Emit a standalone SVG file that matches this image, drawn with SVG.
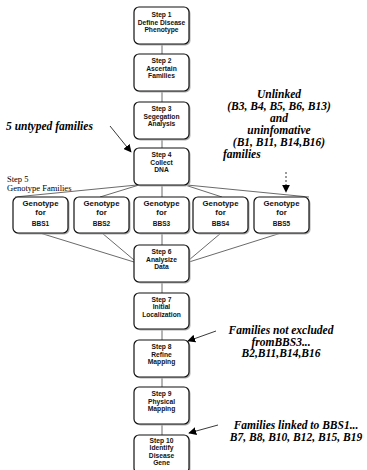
<svg xmlns="http://www.w3.org/2000/svg" width="367" height="470" viewBox="0 0 367 470">
<style>
.shadow{fill:#b0b0b0}
.box{fill:#fff;stroke:#111;stroke-width:1.2}
.bt{font-family:"Liberation Sans",Arial,sans-serif;font-weight:bold;font-size:6.7px;fill:#111;text-anchor:middle}
.gt{font-family:"Liberation Sans",Arial,sans-serif;font-weight:bold;font-size:7.8px;fill:#111;text-anchor:middle}
.gs{font-family:"Liberation Sans",Arial,sans-serif;font-weight:bold;font-size:6.5px;fill:#111;text-anchor:middle}
.ann{font-family:"Liberation Serif","Times New Roman",serif;font-weight:bold;font-style:italic;font-size:11.5px;fill:#000}
.lab{font-family:"Liberation Serif","Times New Roman",serif;font-size:8.5px;fill:#000}
.ln{stroke:#444;stroke-width:0.8;fill:none}
.arr{stroke:#222;stroke-width:0.9;fill:none}
</style>
<defs>
<marker id="ah" viewBox="0 0 10 10" refX="9" refY="5" markerWidth="8" markerHeight="8" markerUnits="userSpaceOnUse" orient="auto">
<path d="M0,0 L10,5 L0,10 z" fill="#000"/>
</marker>
</defs>
<g id="connectors">
<line class="ln" x1="162" y1="44" x2="162" y2="54"/>
<line class="ln" x1="162" y1="91" x2="162" y2="102"/>
<line class="ln" x1="162" y1="139" x2="162" y2="148"/>
<line class="ln" x1="137" y1="185" x2="15" y2="197"/>
<line class="ln" x1="139" y1="185" x2="100" y2="197"/>
<line class="ln" x1="162" y1="185" x2="162" y2="197"/>
<line class="ln" x1="185" y1="185" x2="222" y2="197"/>
<line class="ln" x1="187" y1="185" x2="309" y2="197"/>
<line class="ln" x1="40" y1="233" x2="134" y2="262"/>
<line class="ln" x1="102" y1="233" x2="134" y2="260"/>
<line class="ln" x1="162" y1="233" x2="162" y2="245"/>
<line class="ln" x1="221" y1="233" x2="189" y2="260"/>
<line class="ln" x1="281" y1="233" x2="189" y2="262"/>
<line class="ln" x1="162" y1="282" x2="162" y2="293"/>
<line class="ln" x1="162" y1="329" x2="162" y2="340"/>
<line class="ln" x1="162" y1="377" x2="162" y2="387"/>
<line class="ln" x1="162" y1="424" x2="162" y2="435"/>
<line class="arr" x1="110" y1="126" x2="131" y2="152" marker-end="url(#ah)"/>
<line class="arr" x1="286" y1="172" x2="286" y2="192" stroke-dasharray="2,2" marker-end="url(#ah)"/>
<line class="arr" x1="216" y1="331" x2="188" y2="341" marker-end="url(#ah)"/>
<line class="arr" x1="218" y1="425" x2="189" y2="433" marker-end="url(#ah)"/>
</g>
<g id="step1"><rect class="shadow" x="135.5" y="8.5" width="55" height="37" rx="5"/><rect class="box" x="134" y="7" width="55" height="37" rx="5"/>
<text class="bt" x="161.5" y="17">Step 1</text><text class="bt" x="161.5" y="24.5">Define Disease</text><text class="bt" x="161.5" y="32">Phenotype</text></g>
<g id="step2"><rect class="shadow" x="135.5" y="55.5" width="55" height="37" rx="5"/><rect class="box" x="134" y="54" width="55" height="37" rx="5"/>
<text class="bt" x="161.5" y="63">Step 2</text><text class="bt" x="161.5" y="70.5">Ascertain</text><text class="bt" x="161.5" y="78">Families</text></g>
<g id="step3"><rect class="shadow" x="135.5" y="103.5" width="55" height="37" rx="5"/><rect class="box" x="134" y="102" width="55" height="37" rx="5"/>
<text class="bt" x="161.5" y="111">Step 3</text><text class="bt" x="161.5" y="118.5">Segegation</text><text class="bt" x="161.5" y="126">Analysis</text></g>
<g id="step4"><rect class="shadow" x="135.5" y="149.5" width="55" height="37" rx="5"/><rect class="box" x="134" y="148" width="55" height="37" rx="5"/>
<text class="bt" x="161.5" y="157">Step 4</text><text class="bt" x="161.5" y="164.5">Collect</text><text class="bt" x="161.5" y="172">DNA</text></g>
<g id="bbs1"><rect class="shadow" x="14.5" y="198.5" width="55" height="36" rx="5"/><rect class="box" x="13" y="197" width="55" height="36" rx="5"/>
<text class="gt" x="40.5" y="206">Genotype</text><text class="gt" x="40.5" y="215">for</text><text class="gs" x="40.5" y="226">BBS1</text></g>
<g id="bbs2"><rect class="shadow" x="75.5" y="198.5" width="55" height="36" rx="5"/><rect class="box" x="74" y="197" width="55" height="36" rx="5"/>
<text class="gt" x="101.5" y="206">Genotype</text><text class="gt" x="101.5" y="215">for</text><text class="gs" x="101.5" y="226">BBS2</text></g>
<g id="bbs3"><rect class="shadow" x="135.5" y="198.5" width="55" height="36" rx="5"/><rect class="box" x="134" y="197" width="55" height="36" rx="5"/>
<text class="gt" x="161.5" y="206">Genotype</text><text class="gt" x="161.5" y="215">for</text><text class="gs" x="161.5" y="226">BBS3</text></g>
<g id="bbs4"><rect class="shadow" x="194.5" y="198.5" width="55" height="36" rx="5"/><rect class="box" x="193" y="197" width="55" height="36" rx="5"/>
<text class="gt" x="220.5" y="206">Genotype</text><text class="gt" x="220.5" y="215">for</text><text class="gs" x="220.5" y="226">BBS4</text></g>
<g id="bbs5"><rect class="shadow" x="255.5" y="198.5" width="55" height="36" rx="5"/><rect class="box" x="254" y="197" width="55" height="36" rx="5"/>
<text class="gt" x="281.5" y="206">Genotype</text><text class="gt" x="281.5" y="215">for</text><text class="gs" x="281.5" y="226">BBS5</text></g>
<g id="step6"><rect class="shadow" x="135.5" y="246.5" width="55" height="37" rx="5"/><rect class="box" x="134" y="245" width="55" height="37" rx="5"/>
<text class="bt" x="161.5" y="254">Step 6</text><text class="bt" x="161.5" y="261.5">Analysize</text><text class="bt" x="161.5" y="269">Data</text></g>
<g id="step7"><rect class="shadow" x="135.5" y="294.5" width="55" height="36" rx="5"/><rect class="box" x="134" y="293" width="55" height="36" rx="5"/>
<text class="bt" x="161.5" y="302">Step 7</text><text class="bt" x="161.5" y="309">Initial</text><text class="bt" x="161.5" y="316.5">Localization</text></g>
<g id="step8"><rect class="shadow" x="135.5" y="341.5" width="55" height="37" rx="5"/><rect class="box" x="134" y="340" width="55" height="37" rx="5"/>
<text class="bt" x="161.5" y="349">Step 8</text><text class="bt" x="161.5" y="356.5">Refine</text><text class="bt" x="161.5" y="364">Mapping</text></g>
<g id="step9"><rect class="shadow" x="135.5" y="388.5" width="55" height="37" rx="5"/><rect class="box" x="134" y="387" width="55" height="37" rx="5"/>
<text class="bt" x="161.5" y="396">Step 9</text><text class="bt" x="161.5" y="403.5">Physical</text><text class="bt" x="161.5" y="411">Mapping</text></g>
<g id="step10"><rect class="shadow" x="135.5" y="436.5" width="55" height="38" rx="5"/><rect class="box" x="134" y="435" width="55" height="38" rx="5"/>
<text class="bt" x="161.5" y="442.5">Step 10</text><text class="bt" x="161.5" y="450">Identify</text><text class="bt" x="161.5" y="457.5">Disease</text><text class="bt" x="161.5" y="465">Gene</text></g>
<g id="annotations">
<text class="ann" x="6" y="130">5 untyped families</text>
<text class="lab" x="7" y="182">Step 5</text>
<text class="lab" x="7" y="191">Genotype Families</text>
<g text-anchor="middle">
<text class="ann" x="279" y="98">Unlinked</text>
<text class="ann" x="279" y="110">(B3, B4, B5, B6, B13)</text>
<text class="ann" x="279" y="122">and</text>
<text class="ann" x="279" y="134">uninfomative</text>
<text class="ann" x="279" y="146">(B1, B11, B14,B16)</text>
</g>
<text class="ann" x="223" y="158">families</text>
<g text-anchor="middle">
<text class="ann" x="281" y="334">Families not excluded</text>
<text class="ann" x="281" y="345.5">fromBBS3...</text>
<text class="ann" x="281" y="357">B2,B11,B14,B16</text>
<text class="ann" x="296" y="429">Families linked to BBS1...</text>
<text class="ann" x="296" y="441">B7, B8, B10, B12, B15, B19</text>
</g>
</g>
</svg>
